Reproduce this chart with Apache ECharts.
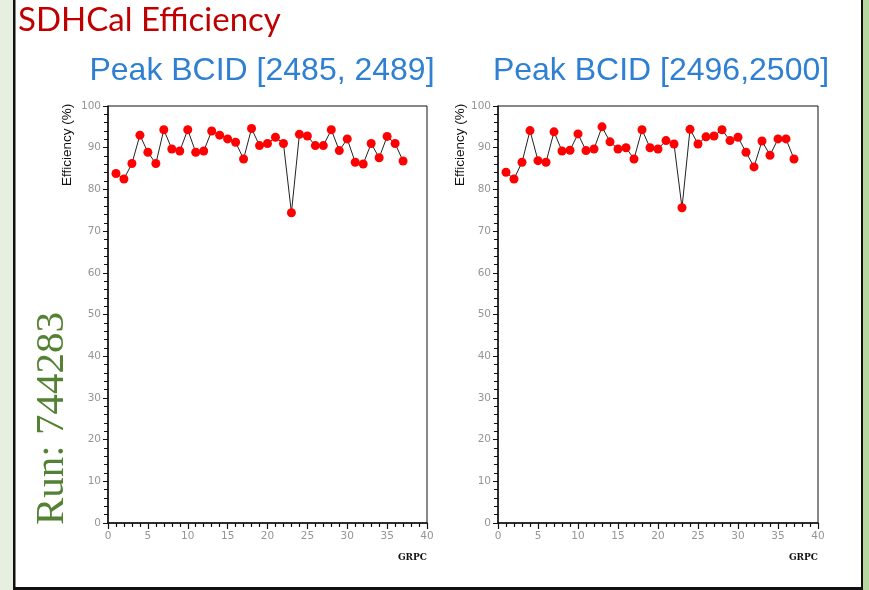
<!DOCTYPE html>
<html><head><meta charset="utf-8">
<script src="https://cdn.jsdelivr.net/npm/echarts@6/dist/echarts.min.js"></script>
<style>html,body{margin:0;padding:0;background:#fff}#c{width:869px;height:590px}</style>
</head><body><div id="c"></div>
<script>
const grpc = [1,2,3,4,5,6,7,8,9,10,11,12,13,14,15,16,17,18,19,20,21,22,23,24,25,26,27,28,29,30,31,32,33,34,35,36,37];
const effLeft = [83.8,82.5,86.2,93.0,88.9,86.2,94.3,89.7,89.2,94.3,88.9,89.2,94.0,93.0,92.1,91.3,87.3,94.6,90.5,91.0,92.5,91.0,74.4,93.2,92.8,90.5,90.5,94.3,89.3,92.1,86.5,86.1,91.0,87.6,92.7,91.0,86.8];
const effRight = [84.1,82.5,86.5,94.1,86.9,86.5,93.8,89.2,89.4,93.3,89.3,89.7,95.0,91.4,89.7,90.0,87.3,94.3,90.0,89.7,91.7,90.9,75.6,94.4,90.9,92.6,92.8,94.3,91.7,92.5,88.9,85.4,91.6,88.2,92.1,92.1,87.3];
const mainTitle = 'SDHCal Efficiency';
const panelTitles = ['Peak BCID [2485, 2489]', 'Peak BCID [2496,2500]'];
const runLabel = 'Run: 744283';
const xName = 'GRPC';
const yName = 'Efficiency (%)';

const chart = echarts.init(document.getElementById('c'), null, {renderer:'canvas'});
const tickFont = {color:'#959595', fontFamily:'DejaVu Sans', fontSize:10.5};
function xAxis(i){
  return {gridIndex:i, type:'value', min:0, max:40, interval:5,
    name:xName, nameLocation:'end', nameGap:0,
    nameTextStyle:{fontFamily:'DejaVu Serif', fontWeight:'bold', fontSize:9, color:'#111', align:'right', verticalAlign:'top', padding:[30,0,0,0]},
    axisLine:{show:true, onZero:false, lineStyle:{color:'#111', width:1.5}},
    axisTick:{show:true, length:6, inside:false, lineStyle:{color:'#111', width:1.2}},
    minorTick:{show:true, splitNumber:5, length:4, lineStyle:{color:'#111', width:1.2}},
    axisLabel:{...tickFont, margin:8},
    splitLine:{show:false}};
}
function yAxis(i){
  return {gridIndex:i, type:'value', min:0, max:100, interval:10,
    axisLine:{show:true, onZero:false, lineStyle:{color:'#111', width:1.5}},
    axisTick:{show:true, length:5, lineStyle:{color:'#111', width:1}},
    minorTick:{show:true, splitNumber:5, length:4, lineStyle:{color:'#111', width:1}},
    axisLabel:{...tickFont, margin:7},
    splitLine:{show:false}};
}
function series(i, data){
  return {type:'line', xAxisIndex:i, yAxisIndex:i,
    data: grpc.map((g,k)=>[g, data[k]]),
    symbol:'circle', symbolSize:9, showSymbol:true,
    lineStyle:{color:'#222', width:1},
    itemStyle:{color:'#ff0000', borderWidth:0},
    animation:false, z:3};
}
chart.setOption({
  backgroundColor:'#ffffff',
  animation:false,
  title:[
    {text:mainTitle, left:18, top:4, padding:0, textStyle:{fontFamily:'Lato', fontWeight:'normal', fontSize:33, color:'#c00000'}},
    {text:panelTitles[0], left:262, textAlign:'center', top:55, padding:0, textStyle:{fontFamily:'Liberation Sans', fontWeight:'normal', fontSize:32, color:'#2f80d3'}},
    {text:panelTitles[1], left:661, textAlign:'center', top:55, padding:0, textStyle:{fontFamily:'Liberation Sans', fontWeight:'normal', fontSize:32, color:'#2f80d3'}}
  ],
  grid:[
    {left:108, width:319, top:106, height:417, show:true, borderColor:'#111', borderWidth:1, backgroundColor:'#fff'},
    {left:498, width:320, top:106, height:417, show:true, borderColor:'#111', borderWidth:1, backgroundColor:'#fff'}
  ],
  xAxis:[xAxis(0), xAxis(1)],
  yAxis:[yAxis(0), yAxis(1)],
  series:[series(0, effLeft), series(1, effRight)],
  graphic:[
    {type:'rect', shape:{x:0,y:0,width:13,height:590}, style:{fill:'#e6efe0'}, silent:true},
    {type:'rect', shape:{x:13,y:0,width:2.5,height:590}, style:{fill:'#111'}, silent:true},
    {type:'rect', shape:{x:861,y:0,width:2,height:590}, style:{fill:'#111'}, silent:true},
    {type:'rect', shape:{x:863,y:0,width:6,height:590}, style:{fill:'#b4d8a0'}, silent:true},
    {type:'rect', shape:{x:13,y:587,width:850,height:3}, style:{fill:'#111'}, silent:true},
    {type:'text', x:32, y:525, rotation:Math.PI/2,
      style:{text:runLabel, fontFamily:'Liberation Serif', fontSize:41, fill:'#548235', textAlign:'left', textVerticalAlign:'top'}, silent:true},
    {type:'text', x:60, y:186, rotation:Math.PI/2,
      style:{text:yName, fontFamily:'Liberation Sans', fontSize:13.5, fill:'#111', textAlign:'left', textVerticalAlign:'top'}, silent:true},
    {type:'text', x:453, y:186, rotation:Math.PI/2,
      style:{text:yName, fontFamily:'Liberation Sans', fontSize:13.5, fill:'#111', textAlign:'left', textVerticalAlign:'top'}, silent:true}
  ]
});
</script></body></html>
